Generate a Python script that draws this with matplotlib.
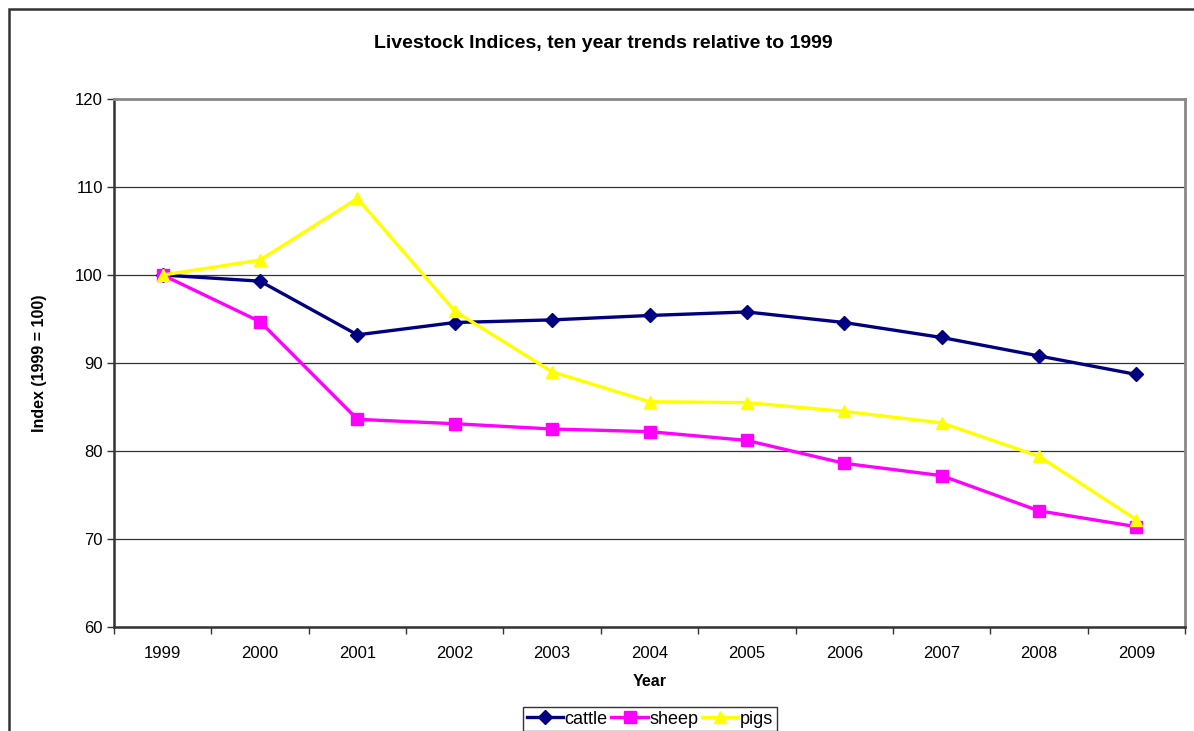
import matplotlib
matplotlib.use("Agg")
import matplotlib.pyplot as plt
from matplotlib.patches import Rectangle

plt.rcParams["font.family"] = ["Liberation Sans", "DejaVu Sans"]

# ---- data ----
years = ["1999", "2000", "2001", "2002", "2003", "2004",
         "2005", "2006", "2007", "2008", "2009"]
cattle = [100.0, 99.3, 93.2, 94.6, 94.9, 95.4, 95.8, 94.6, 92.9, 90.8, 88.7]
sheep = [100.0, 94.7, 83.6, 83.1, 82.5, 82.2, 81.2, 78.6, 77.2, 73.2, 71.4]
pigs = [100.0, 101.7, 108.7, 95.9, 89.0, 85.6, 85.5, 84.5, 83.2, 79.4, 72.2]

fig = plt.figure(figsize=(11.94, 7.31), dpi=100)
fig.patch.set_facecolor("white")

# outer chart frame (runs off right / bottom edges)
fig.patches.append(Rectangle((9 / 1194, -0.2), 1.5, 1 - 9 / 731 + 0.2,
                             transform=fig.transFigure, fill=False,
                             edgecolor="#333333", linewidth=1.8, zorder=0))

ax = fig.add_axes([114 / 1194, 1 - 627 / 731, 1071 / 1194, 528 / 731])

x = list(range(len(years)))
ax.plot(x, cattle, color="#000080", linewidth=2.4, marker="D",
        markersize=7, label="cattle", zorder=3)
ax.plot(x, sheep, color="#FF00FF", linewidth=2.4, marker="s",
        markersize=8, label="sheep", zorder=3)
ax.plot(x, pigs, color="#FFFF00", linewidth=2.4, marker="^",
        markersize=9, label="pigs", zorder=4)

ax.set_xlim(-0.5, len(years) - 0.5)
ax.set_ylim(60, 120)
ax.set_yticks(range(60, 121, 10))
ax.yaxis.grid(True, color="#333333", linewidth=0.9)
ax.set_axisbelow(True)

# category labels centred, tick marks between categories
ax.set_xticks(x)
ax.set_xticklabels(years)
ax.set_xticks([i - 0.5 for i in range(len(years) + 1)], minor=True)
ax.tick_params(axis="x", which="major", length=0, pad=14, labelsize=12)
ax.tick_params(axis="x", which="minor", length=5, direction="out",
               width=1, color="#333333")
ax.tick_params(axis="y", length=5, direction="out", width=1,
               color="#333333", labelsize=12, pad=3)

ax.spines["left"].set_color("#333333")
ax.spines["bottom"].set_color("#333333")
ax.spines["left"].set_linewidth(1.8)
ax.spines["bottom"].set_linewidth(1.8)
ax.spines["top"].set_color("#888888")
ax.spines["right"].set_color("#888888")
ax.spines["top"].set_linewidth(2)
ax.spines["right"].set_linewidth(2)

ax.set_xlabel("Year", fontsize=11.5, fontweight="bold", labelpad=9)
ax.set_ylabel("Index (1999 = 100)", fontsize=11.5, fontweight="bold",
              labelpad=20)

fig.text(603 / 1194, 1 - 43 / 731, "Livestock Indices, ten year trends relative to 1999",
         ha="center", va="center", fontsize=14, fontweight="bold")

leg = fig.legend(loc="center", bbox_to_anchor=(650 / 1194, 1 - 719 / 731),
                 ncol=3, frameon=True, fancybox=False, fontsize=13,
                 handlelength=2.0, handletextpad=0.1, columnspacing=0.2,
                 borderpad=0.2, borderaxespad=0)
leg.get_frame().set_edgecolor("black")
leg.get_frame().set_linewidth(1)

fig.savefig("out.png", dpi=100)
